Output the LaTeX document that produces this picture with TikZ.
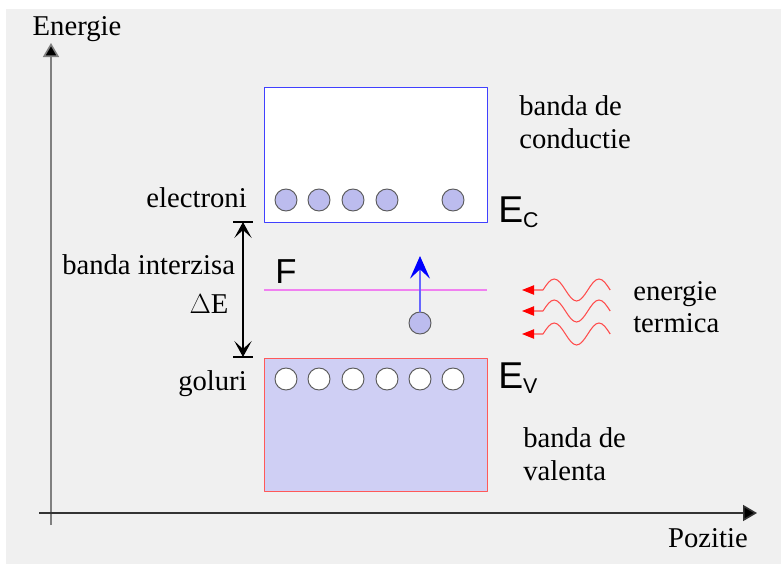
\documentclass[tikz,border=0pt]{standalone}
\usepackage{fontspec}
\setmainfont{Liberation Serif}
\newfontfamily\arialfont{Liberation Sans}
\usetikzlibrary{arrows.meta}
\definecolor{fondgri}{HTML}{F0F0F0}
\definecolor{puncte}{HTML}{CFCFF4}
\definecolor{bilepuncte}{HTML}{BCBCEE}
\definecolor{fermi}{HTML}{F080F0}
\begin{document}
\begin{tikzpicture}[x=0.75pt,y=-0.75pt,line join=round,
	txt/.style={font=\fontsize{21.5}{24}\selectfont,inner sep=0pt},
	electron/.style={circle,draw=gray!70!black,fill=bilepuncte,minimum size=16.5pt,inner sep=0pt,line width=0.7pt},
	gol/.style={electron,fill=white},
	unda/.style={red!70,line width=0.8pt}]
	\useasboundingbox (0,0) rectangle (781,564);
	\fill[fondgri] (6,9) rectangle (781,564);
	%Axe
	\path
	(51,525) coordinate (O) (51,43) coordinate (Y)
	(39,513) coordinate (X0) (757,513) coordinate (X)
	;
	\draw[gray,line width=1.2pt,-{Triangle[length=10.5pt,width=12pt,fill=black]}] (O)--(Y);
	\draw[gray!40!black,line width=1.2pt,-{Triangle[length=10.5pt,width=12pt,fill=black]}] (X0)--(X);
	\node[txt,anchor=base] (en) at (77,35) {Energie};
	\node[txt,anchor=base] (poz) at (708,547) {Pozitie};
	%Benzi
	\draw[blue!75,fill=white,line width=0.7pt] (264,87) rectangle (487,222);
	\draw[red!65,fill=puncte,line width=0.7pt] (264,358) rectangle (487,491);
	\draw[fermi,line width=1pt] (264,290) coordinate (F1)--(487,290) coordinate (F2);
	\foreach \t/\x in {e1/286,e2/319,e3/353,e4/387,e5/453}{
		\node[electron] (\t) at (\x,200) {};}
	\foreach \t/\x in {g1/286,g2/319,g3/353,g4/387,g5/420,g6/453}{
		\node[gol] (\t) at (\x,379) {};}
	%Electron excitat
	\node[electron] (ex) at (420,323) {};
	\coordinate (vf) at (420,256);
	\draw[blue!60,line width=0.9pt,-{Stealth[length=17pt,width=15pt,inset=7pt,blue]}] (ex)--(vf);
	%Banda interzisa
	\path (233,222) coordinate (S1) (253,222) coordinate (S2)
	(233,357) coordinate (J1) (253,357) coordinate (J2)
	(243,222) coordinate (dS) (243,357) coordinate (dJ);
	\draw[line width=0.8pt] (S1)--(S2) (J1)--(J2);
	\draw[line width=0.8pt,{Stealth[length=12pt,width=13pt,inset=6pt]}-{Stealth[length=12pt,width=13pt,inset=6pt]}] (dS)--(dJ);
	%Etichete
	\node[txt,anchor=base east] (lel) at (247,207) {electroni};
	\node[txt,anchor=base west] (lbi) at (62,274) {banda interzisa};
	\node[txt,anchor=base] (lde) at (209,313) {$\Delta$E};
	\node[txt,anchor=base east] (lgo) at (247,390) {goluri};
	\node[txt,anchor=base west,align=left] (lbc) at (519,115) {banda de};
	\node[txt,anchor=base west,align=left] (lbc2) at (519,148) {conductie};
	\node[txt,anchor=base west,align=left] (lbv) at (523,447) {banda de};
	\node[txt,anchor=base west,align=left] (lbv2) at (523,480) {valenta};
	\node[txt,anchor=base west,align=left] (let) at (633,300) {energie};
	\node[txt,anchor=base west,align=left] (let2) at (633,332) {termica};
	\node[inner sep=0pt,anchor=base west,font=\arialfont\fontsize{26}{28}\selectfont] (lF) at (275,283) {F};
	\node[inner sep=0pt,anchor=base west,font=\arialfont\fontsize{28}{30}\selectfont] (lEc) at (498,222) {E\raisebox{-0.3ex}{\fontsize{16}{18}\selectfont C}};
	\node[inner sep=0pt,anchor=base west,font=\arialfont\fontsize{28}{30}\selectfont] (lEv) at (498,388) {E\raisebox{-0.3ex}{\fontsize{16}{18}\selectfont V}};
	%Energie termica
	\foreach \t/\y in {u1/290,u2/311,u3/334}{
		\coordinate (\t) at (522,\y);
		\draw[unda,{Triangle[length=9pt,width=7pt,red]}-] (\t)--++(21,0)
		sin ++(11.2,-11) cos ++(11.2,11) sin ++(11.2,11) cos ++(11.2,-11)
		sin ++(11.2,-11) cos ++(11.2,11);}
\end{tikzpicture}
\end{document}
